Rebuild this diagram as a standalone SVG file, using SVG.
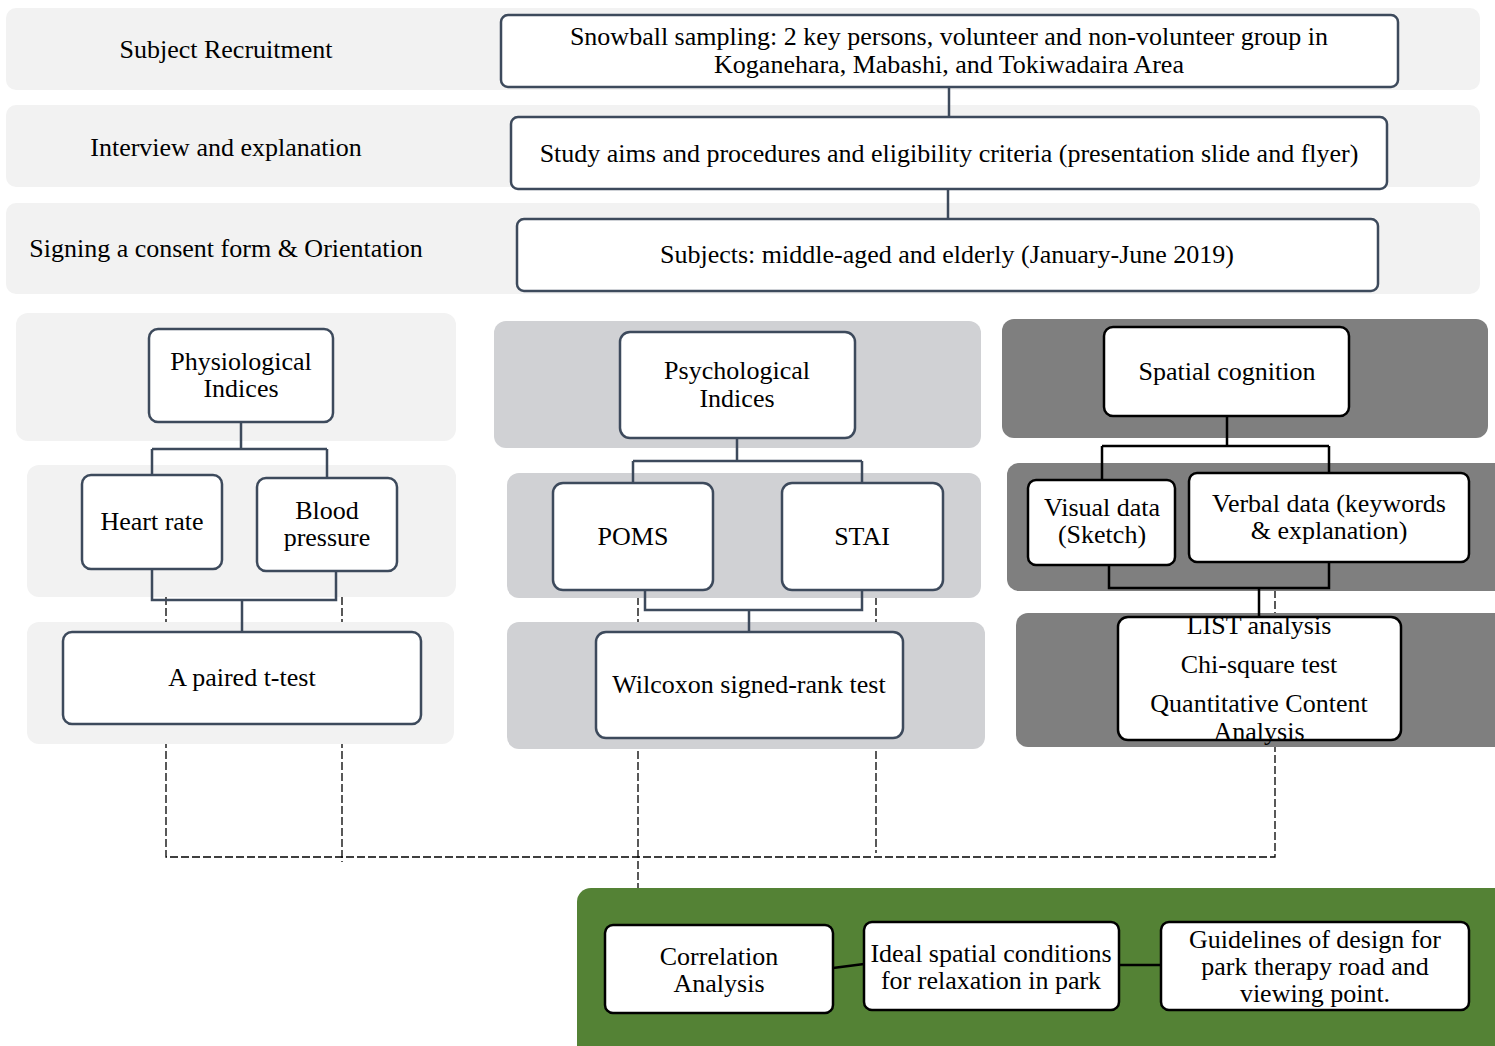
<svg xmlns="http://www.w3.org/2000/svg" width="1495" height="1046" viewBox="0 0 1495 1046">
  <style>
    text { font-family: "Liberation Serif", "Times New Roman", serif; font-size: 26px; fill: #000; text-anchor: middle; }
    .lane-light { fill: #f2f2f2; }
    .lane-mid { fill: #d0d1d4; }
    .lane-dark { fill: #7f7f7f; }
    .lane-green { fill: #548235; }
    .box { fill: #fff; stroke: #3d4a5c; stroke-width: 2.5; }
    .box-k { fill: #fff; stroke: #000; stroke-width: 2.5; }
    .link { fill: none; stroke: #3d4a5c; stroke-width: 2.5; }
    .link-k { fill: none; stroke: #000; stroke-width: 2.5; }
    .dash { fill: none; stroke: #000; stroke-width: 1.3; stroke-dasharray: 8 3; }
  </style>
  <rect width="1495" height="1046" fill="#fff"/>

  <!-- dashed links into the correlation stage (run behind the lanes) -->
  <g id="dashed-connectors">
    <path class="dash" d="M166,597 V857 H1275 V591"/>
    <path class="dash" d="M342,597 V862"/>
    <path class="dash" d="M638,597 V888"/>
    <path class="dash" d="M876,597 V853"/>
  </g>

  <!-- stage lanes -->
  <g id="lanes">
    <rect class="lane-light" x="6" y="8" width="1474" height="82" rx="10"/>
    <rect class="lane-light" x="6" y="105" width="1474" height="82" rx="10"/>
    <rect class="lane-light" x="6" y="203" width="1474" height="91" rx="10"/>

    <rect class="lane-light" x="16" y="313" width="440" height="128" rx="12"/>
    <rect class="lane-light" x="27" y="465" width="429" height="132" rx="12"/>
    <rect class="lane-light" x="27" y="622" width="427" height="122" rx="12"/>

    <rect class="lane-mid" x="494" y="321" width="487" height="127" rx="12"/>
    <rect class="lane-mid" x="507" y="473" width="474" height="125" rx="12"/>
    <rect class="lane-mid" x="507" y="622" width="478" height="127" rx="12"/>

    <rect class="lane-dark" x="1002" y="319" width="486" height="119" rx="12"/>
    <rect class="lane-dark" x="1007" y="463" width="500" height="128" rx="12"/>
    <rect class="lane-dark" x="1016" y="613" width="500" height="134" rx="12"/>

    <rect class="lane-green" x="577" y="888" width="940" height="180" rx="14"/>
  </g>

  <!-- solid connectors -->
  <g id="connectors">
    <path class="link" d="M949,87 V117"/>
    <path class="link" d="M948,189 V219"/>

    <path class="link" d="M241,422 V449 M152,449 H327 M152,449 V475 M327,449 V478"/>
    <path class="link" d="M152,569 V600 H336 V571 M242,600 V632"/>

    <path class="link" d="M737,438 V461 M633,461 H862 M633,461 V483 M862,461 V483"/>
    <path class="link" d="M645,590 V610 H862 V590 M749,610 V632"/>

    <path class="link-k" d="M1227,416 V446 M1102,446 H1329 M1102,446 V480 M1329,446 V473"/>
    <path class="link-k" d="M1109,565 V588 H1329 V562 M1259,588 V617"/>

    <path class="link-k" d="M833,968 L864,964 M1119,965 H1161"/>
  </g>

  <!-- stage labels -->
  <g id="stage-labels">
    <text x="226" y="58">Subject Recruitment</text>
    <text x="226" y="156">Interview and explanation</text>
    <text x="226" y="257">Signing a consent form &amp; Orientation</text>
  </g>

  <g id="snowball">
    <rect class="box" x="501" y="15" width="897" height="72" rx="7"/>
    <text x="949" y="45">Snowball sampling: 2 key persons, volunteer and non-volunteer group in</text>
    <text x="949" y="73">Koganehara, Mabashi, and Tokiwadaira Area</text>
  </g>
  <g id="study-aims">
    <rect class="box" x="511" y="117" width="876" height="72" rx="7"/>
    <text x="949" y="162">Study aims and procedures and eligibility criteria (presentation slide and flyer)</text>
  </g>
  <g id="subjects">
    <rect class="box" x="517" y="219" width="861" height="72" rx="7"/>
    <text x="947" y="263">Subjects: middle-aged and elderly (January-June 2019)</text>
  </g>

  <g id="physiological">
    <rect class="box" x="149" y="329" width="184" height="93" rx="9"/>
    <text x="241" y="370">Physiological</text>
    <text x="241" y="397">Indices</text>
  </g>
  <g id="heart-rate">
    <rect class="box" x="82" y="475" width="140" height="94" rx="9"/>
    <text x="152" y="530">Heart rate</text>
  </g>
  <g id="blood-pressure">
    <rect class="box" x="257" y="478" width="140" height="93" rx="9"/>
    <text x="327" y="519">Blood</text>
    <text x="327" y="546">pressure</text>
  </g>
  <g id="paired-t-test">
    <rect class="box" x="63" y="632" width="358" height="92" rx="9"/>
    <text x="242" y="686">A paired t-test</text>
  </g>

  <g id="psychological">
    <rect class="box" x="620" y="332" width="235" height="106" rx="10"/>
    <text x="737" y="379">Psychological</text>
    <text x="737" y="407">Indices</text>
  </g>
  <g id="poms">
    <rect class="box" x="553" y="483" width="160" height="107" rx="10"/>
    <text x="633" y="545">POMS</text>
  </g>
  <g id="stai">
    <rect class="box" x="782" y="483" width="161" height="107" rx="10"/>
    <text x="862" y="545">STAI</text>
  </g>
  <g id="wilcoxon">
    <rect class="box" x="596" y="632" width="307" height="106" rx="10"/>
    <text x="749" y="693">Wilcoxon signed-rank test</text>
  </g>

  <g id="spatial-cognition">
    <rect class="box-k" x="1104" y="327" width="245" height="89" rx="9"/>
    <text x="1227" y="380">Spatial cognition</text>
  </g>
  <g id="visual-data">
    <rect class="box-k" x="1028" y="480" width="147" height="85" rx="8"/>
    <text x="1102" y="516">Visual data</text>
    <text x="1102" y="543">(Sketch)</text>
  </g>
  <g id="verbal-data">
    <rect class="box-k" x="1189" y="473" width="280" height="89" rx="8"/>
    <text x="1329" y="512">Verbal data (keywords</text>
    <text x="1329" y="539">&amp; explanation)</text>
  </g>
  <g id="analysis-methods">
    <rect class="box-k" x="1118" y="617" width="283" height="123" rx="10"/>
    <text x="1259" y="634">LIST analysis</text>
    <text x="1259" y="673">Chi-square test</text>
    <text x="1259" y="712">Quantitative Content</text>
    <text x="1259" y="740">Analysis</text>
  </g>

  <g id="correlation">
    <rect class="box-k" x="605" y="925" width="228" height="88" rx="8"/>
    <text x="719" y="965">Correlation</text>
    <text x="719" y="992">Analysis</text>
  </g>
  <g id="ideal-conditions">
    <rect class="box-k" x="864" y="922" width="255" height="88" rx="8"/>
    <text x="991" y="962">Ideal spatial conditions</text>
    <text x="991" y="989">for relaxation in park</text>
  </g>
  <g id="guidelines">
    <rect class="box-k" x="1161" y="922" width="308" height="88" rx="8"/>
    <text x="1315" y="948">Guidelines of design for</text>
    <text x="1315" y="975">park therapy road and</text>
    <text x="1315" y="1002">viewing point.</text>
  </g>
</svg>
